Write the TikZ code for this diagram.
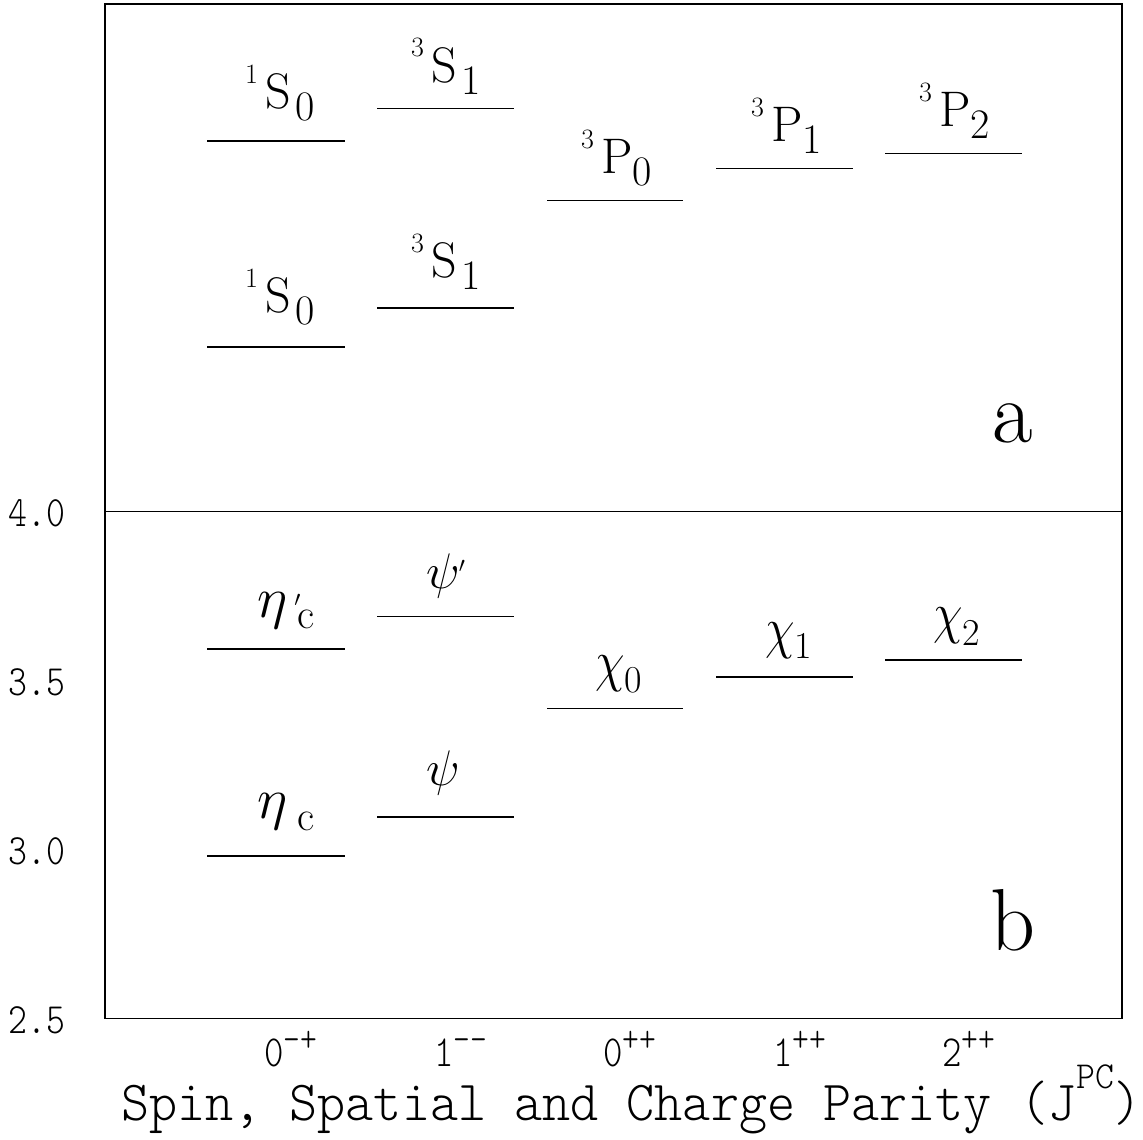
\RequirePackage{fix-cm}
\documentclass[tikz,border=0pt]{standalone}
\usepackage{graphicx}
\usepackage{fontspec}
\newfontfamily\monolt{lmmonolt10-regular}[Extension=.otf]
\newcommand\fs[1]{\fontsize{#1}{#1}\selectfont}
% spectroscopic label: sup, letter, kern before sub, sub
\newcommand\speclab[4]{\raisebox{25pt}{\fs{28}#1}\kern7pt{\fs{50}#2}\kern#3pt\raisebox{-12pt}{\fs{42}#4}}
\newcommand\jpclab[2]{\scalebox{1}[1.2]{{\fs{37}\monolt #1}\raisebox{12pt}{\fs{32}\monolt #2}}}
\newcommand\chilab[2]{\scalebox{1}[1.2]{\fs{48}$\chi$}\raisebox{-#2pt}{\fs{38}#1}}
\newcommand\ticklab[1]{\scalebox{1}[1.2]{\fs{36}\monolt #1}}
\begin{document}
\begin{tikzpicture}[x=1pt,y=-1pt,
  frame/.style={line width=1.9pt},
  level/.style={line width=1.8pt},
  lab/.style={inner sep=0pt, anchor=base west},
  tick/.style={inner sep=0pt, anchor=base}]
\useasboundingbox (0,0) rectangle (1143,1140);
% frame and divider
\draw[frame] (105,4) rectangle (1122,1018.5);
\draw[frame] (105,511.5) -- (1122,511.5);
% ---- panel a levels
\draw[level] (207,141) -- (345,141);
\draw[level] (207,347) -- (345,347);
\draw[level] (377,108.5) -- (514,108.5);
\draw[level] (377,308) -- (514,308);
\draw[level] (547,200.5) -- (683,200.5);
\draw[level] (716,168.5) -- (853,168.5);
\draw[level] (885,153.5) -- (1022,153.5);
% ---- panel b levels
\draw[level] (207,649) -- (345,649);
\draw[level] (207,856) -- (345,856);
\draw[level] (377,616.5) -- (514,616.5);
\draw[level] (377,817) -- (514,817);
\draw[level] (547,708.5) -- (683,708.5);
\draw[level] (716,677) -- (853,677);
\draw[level] (885,660) -- (1022,660);
% ---- panel a labels
\node[lab] (s10a) at (245,108) {\speclab{1}{S}{5}{0}};
\node[lab] (s31a) at (411,82) {\speclab{3}{S}{5}{1}};
\node[lab] (s10b) at (245,312) {\speclab{1}{S}{5}{0}};
\node[lab] (s31b) at (411,277) {\speclab{3}{S}{5}{1}};
\node[lab] (p30) at (581,173) {\speclab{3}{P}{0}{0}};
\node[lab] (p31) at (751,141) {\speclab{3}{P}{0}{1}};
\node[lab] (p32) at (919,126) {\speclab{3}{P}{0}{2}};
\node[lab] (pa) at (992,442) {\fs{88}a};
% ---- panel b labels
\node[lab] (etacp) at (257,617) {{\fs{58}$\eta$}\kern7pt\rlap{\raisebox{11pt}{\fs{22}$\prime$}}\kern3pt\raisebox{-11pt}{\fs{42}c}};
\node[lab] (etac) at (257,818) {{\fs{58}$\eta$}\kern10pt\raisebox{-12pt}{\fs{42}c}};
\node[lab] (psip) at (426,588) {{\fs{50}$\psi$}\kern-1pt\raisebox{16pt}{\fs{22}$\prime$}};
\node[lab] (psi) at (426,785) {\fs{50}$\psi$};
\node[lab] (chi0) at (595,680) {\chilab{0}{12}};
\node[lab] (chi1) at (765,647) {\chilab{1}{11}};
\node[lab] (chi2) at (933,632) {\chilab{2}{13}};
\node[lab] (pb) at (990,950) {\fs{88}b};
% ---- axis labels
\node[tick] (t40) at (37,526) {\ticklab{4.0}};
\node[tick] (t35) at (37,695) {\ticklab{3.5}};
\node[tick] (t30) at (37,864) {\ticklab{3.0}};
\node[tick] (t25) at (37,1033) {\ticklab{2.5}};
\node[lab] (j1) at (264.3,1066) {\jpclab{0}{-+}};
\node[lab] (j2) at (433.8,1066) {\jpclab{1}{-{}-}};
\node[lab] (j3) at (603.3,1066) {\jpclab{0}{++}};
\node[lab] (j4) at (772.8,1066) {\jpclab{1}{++}};
\node[lab] (j5) at (941.8,1066) {\jpclab{2}{++}};
\node[lab] (title) at (121,1120) {\scalebox{1}[1.06]{\fs{53.5}\monolt Spin, Spatial and Charge Parity (J\raisebox{30pt}{\fs{36}PC})}};
\end{tikzpicture}
\end{document}
